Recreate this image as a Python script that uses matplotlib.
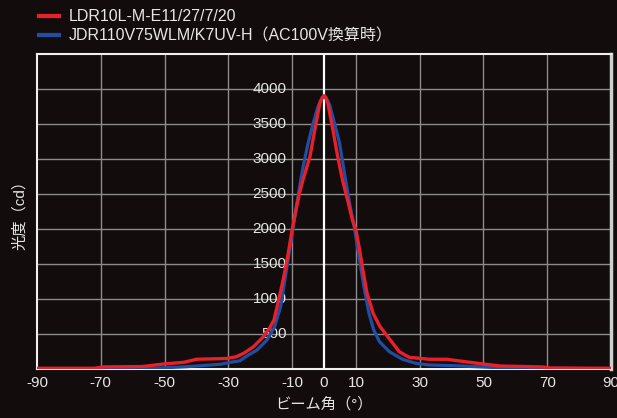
import matplotlib.pyplot as plt
import numpy as np

plt.rcParams['font.family'] = ['Liberation Sans', 'Noto Sans CJK JP', 'DejaVu Sans']

# beam angle (deg) vs luminous intensity (cd)
red_angle = [-90, -72, -69, -57, -50.4, -44, -40, -30.5, -27.5, -25.2, -22.1, -19, -17,
             -15.7, -14.2, -12.6, -11.4, -10, -9, -7.7, -6.6, -4.4, -2.9, -1.3, -0.5, 0,
             0.5, 1.2, 2.8, 4.3, 5.8, 7.4, 8.9, 10, 11, 12.2, 13.5, 15.4, 17.5, 20, 23.6,
             26.7, 33, 38.5, 45.8, 50, 55.2, 68.7, 71, 90]
red_cd = [10, 10, 30, 35, 71, 95, 139, 150, 175, 224, 319, 461, 590,
          700, 986, 1319, 1604, 1986, 2224, 2510, 2700, 3033, 3414, 3796, 3880, 3904,
          3885, 3796, 3414, 3033, 2700, 2414, 2129, 1986, 1747, 1414, 1081, 796, 610, 461, 247,
          167, 139, 139, 95, 71, 43, 29, 14, 10]

blue_angle = [-90, -60, -53.6, -43, -32.6, -29.4, -26.3, -24.2, -21, -17.9, -15.5, -13.6,
              -12.1, -11.1, -9.8, -8.5, -7.3, -6.5, -5, -3.4, -1.9, -0.8, 0, 0.8, 1.8,
              3.3, 4.9, 6.4, 8.1, 9.4, 11, 12.5, 14.1, 15.6, 17.4, 20.5, 24.6, 28.8, 33,
              40.5, 52, 64.6, 90]
blue_cd = [3, 5, 10, 33, 67, 95, 118, 186, 271, 414, 604, 890,
           1319, 1604, 1986, 2367, 2700, 2900, 3224, 3510, 3747, 3860, 3895, 3865, 3771,
           3510, 3224, 2800, 2350, 2050, 1604, 1176, 796, 557, 390, 247, 139, 81, 57,
           48, 24, 10, 3]

x_ticks = [-90, -70, -50, -30, -10, 0, 10, 30, 50, 70, 90]
y_ticks = [500, 1000, 1500, 2000, 2500, 3000, 3500, 4000]

bg = '#130c0d'
txt = '#e6e6e6'

fig = plt.figure(figsize=(6.17, 4.18), dpi=100, facecolor=bg)
ax = fig.add_axes([37/617, 49/418, 574/617, 315/418], facecolor=bg)

ax.set_xlim(-90, 90)
ax.set_ylim(0, 4500)
ax.set_xticks(x_ticks)
ax.set_xticklabels([str(t) for t in x_ticks], color=txt, fontsize=11)
ax.set_yticks([500 * i for i in range(1, 9)])
ax.set_yticklabels([])
ax.tick_params(length=0, pad=5)

# grid
for x in x_ticks[1:-1]:
    if x != 0:
        ax.axvline(x, color='#8c8c8c', lw=1, zorder=1)
for y in range(500, 4500, 500):
    ax.axhline(y, color='#8c8c8c', lw=1, zorder=1)
ax.axvline(0, color='white', lw=1.6, zorder=2)

for v in y_ticks:
    ax.text(-11.7, v, str(v), color=txt, fontsize=11, ha='right', va='center', zorder=3)

ax.plot(blue_angle, blue_cd, color='#1f4ea3', lw=2.3, zorder=4, solid_joinstyle='round',
        label='JDR110V75WLM/K7UV-H（AC100V換算時）')
ax.plot(red_angle, red_cd, color='#e8202a', lw=2.4, zorder=5, solid_joinstyle='round',
        label='LDR10L-M-E11/27/7/20')

for side in ['left', 'top', 'bottom']:
    ax.spines[side].set_color('#f0f0f0')
    ax.spines[side].set_linewidth(1.5)
ax.spines['right'].set_color('#cfcfcf')
ax.spines['right'].set_linewidth(2.5)

ax.set_xlabel('ビーム角（°）', color=txt, fontsize=11, labelpad=5)
ax.set_ylabel('光度（cd）', color=txt, fontsize=11, labelpad=2)

h, l = ax.get_legend_handles_labels()
leg = fig.legend(h[::-1], l[::-1], loc='upper left', bbox_to_anchor=(33/617, 1 - 3/418),
                 frameon=False, fontsize=11.5, handlelength=1.2, handletextpad=0.65,
                 labelspacing=0.25, borderaxespad=0)
for t in leg.get_texts():
    t.set_color(txt)
for line in leg.get_lines():
    line.set_linewidth(3)

fig.savefig('out.png', dpi=100, facecolor=bg)
